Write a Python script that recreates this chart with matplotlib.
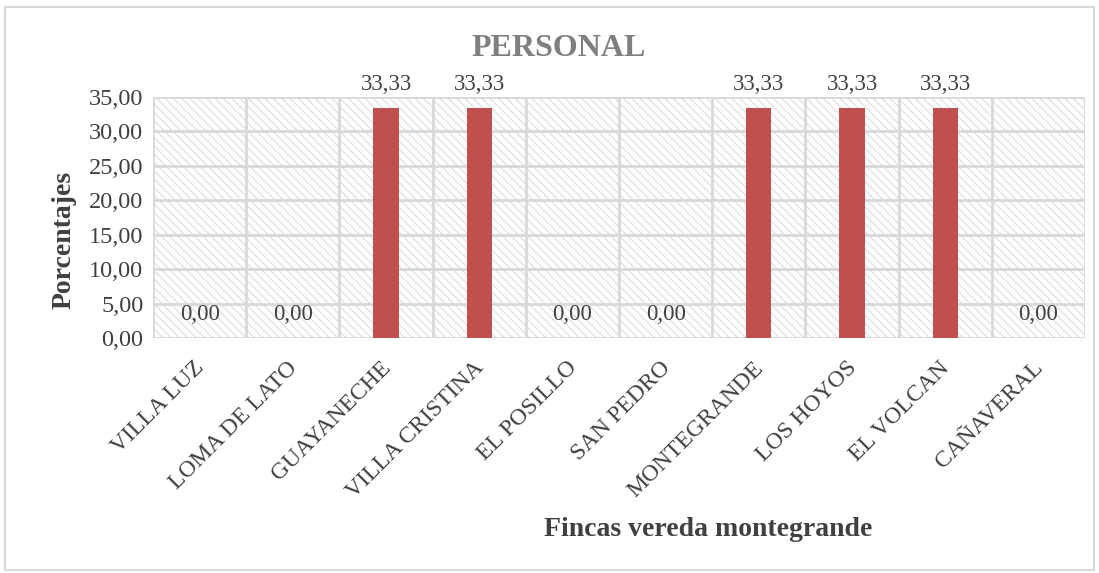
import matplotlib
matplotlib.use("Agg")
from matplotlib import pyplot as plt
from matplotlib.patches import Rectangle
from matplotlib.transforms import ScaledTranslation

fincas = ["VILLA LUZ", "LOMA DE LATO", "GUAYANECHE", "VILLA CRISTINA", "EL POSILLO",
          "SAN PEDRO", "MONTEGRANDE", "LOS HOYOS", "EL VOLCAN", "CAÑAVERAL"]
porcentajes = [0.00, 0.00, 33.33, 33.33, 0.00, 0.00, 33.33, 33.33, 33.33, 0.00]
y_ticks = [0, 5, 10, 15, 20, 25, 30, 35]

plt.rcParams["font.family"] = ["Liberation Serif", "DejaVu Serif"]
plt.rcParams["hatch.linewidth"] = 0.8

fig = plt.figure(figsize=(10.99, 5.73), dpi=100)
fig.patches.append(Rectangle((0.005, 0.005), 0.99, 0.982, transform=fig.transFigure,
                             fill=False, edgecolor="#d9d9d9", linewidth=1.5))
ax = fig.add_axes([153 / 1099, 1 - 338 / 573, 932 / 1099, 241 / 573])

# light diagonal hatch over the plot area
ax.add_patch(Rectangle((0, 0), 1, 1, transform=ax.transAxes, facecolor="white",
                       edgecolor="#dcdcdc", linewidth=0, hatch="\\\\\\\\", zorder=0))

x = range(len(fincas))
ax.bar(x, porcentajes, width=0.27, color="#c0504d", zorder=3)

for i, v in enumerate(porcentajes):
    txt = f"{v:.2f}".replace(".", ",")
    off = 9.5 if v > 0 else 9
    ax.annotate(txt, (i, v), xytext=(0, off), textcoords="offset points",
                ha="center", va="bottom", fontsize=16.5, color="#404040")

ax.set_xlim(-0.5, len(fincas) - 0.5)
ax.set_ylim(0, 35)
ax.set_yticks(y_ticks)
ax.set_yticklabels([f"{t:.2f}".replace(".", ",") for t in y_ticks], fontsize=17.5, color="#404040")
ax.set_xticks(list(x))
ax.set_xticklabels(fincas, rotation=45, ha="right", rotation_mode="anchor",
                   fontsize=17, color="#404040")
ax.tick_params(axis="both", length=0)
ax.tick_params(axis="x", pad=14)
ax.tick_params(axis="y", pad=7)
shift = ScaledTranslation(-6 / 100, 0, fig.dpi_scale_trans)
for lbl in ax.get_xticklabels():
    lbl.set_transform(lbl.get_transform() + shift)

# gridlines between categories and at each y tick
for b in [i - 0.5 for i in range(len(fincas) + 1)]:
    ax.axvline(b, color="#d9d9d9", linewidth=2, zorder=1)
ax.grid(axis="y", color="#d9d9d9", linewidth=2, zorder=1)
ax.set_axisbelow(True)
for s in ax.spines.values():
    s.set_visible(False)

fig.text(0.508, 1 - 49 / 573, "PERSONAL", ha="center", va="center", fontsize=23,
         fontweight="bold", color="#7f7f7f")
fig.text(0.058, 1 - 240 / 573, "Porcentajes", rotation=90, ha="center", va="center",
         fontsize=20, fontweight="bold", color="#404040")
fig.text(0.644, 1 - 530 / 573, "Fincas vereda montegrande", ha="center", va="center",
         fontsize=20, fontweight="bold", color="#404040")

fig.savefig("out.png", dpi=100)
